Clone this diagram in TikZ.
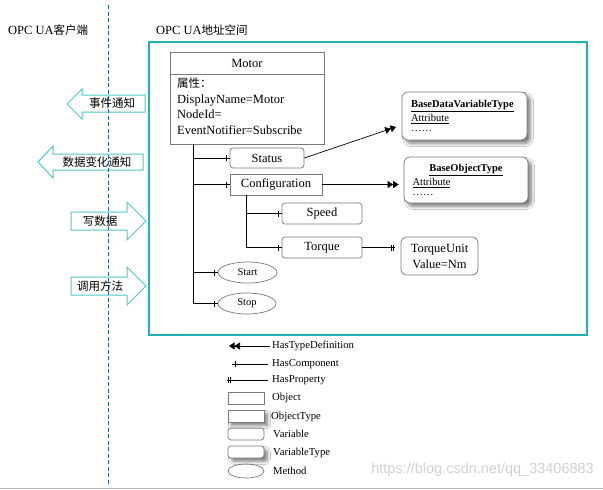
\documentclass[tikz,border=0pt]{standalone}
\usepackage{fontspec}
\setmainfont{Liberation Serif}
\newfontfamily\cjk{Noto Sans CJK SC}
\newfontfamily\wmfont{Liberation Sans}
\usetikzlibrary{arrows.meta,shapes.geometric,shadows.blur,decorations.markings}
\definecolor{tealc}{RGB}{34,178,180}
\definecolor{arrc}{RGB}{80,200,200}
\definecolor{dashc}{RGB}{40,95,150}
\definecolor{boxgray}{RGB}{120,120,120}
\newcommand{\fsz}[1]{\fontsize{#1}{#1}\selectfont}
\tikzset{
  box/.style={draw=boxgray, line width=0.7pt, inner sep=0pt, align=center, font=\fsz{12.5}},
  objbox/.style={box, rectangle},
  varbox/.style={box, rounded corners=3pt},
  methbox/.style={draw=boxgray, line width=0.7pt, ellipse, inner sep=0pt, font=\fsz{10.5}},
  shad/.style={fill=white, blur shadow={shadow xshift=3.5pt, shadow yshift=-3.5pt, shadow blur steps=10, shadow blur radius=3pt, shadow opacity=50}},
  typebox/.style={box, rounded corners=6pt, shad, font=\fsz{10.5}},
  tick/.style={line width=0.7pt},
  comp/.style={line width=0.7pt, decoration={markings,
      mark=at position -3pt with {\draw[tick] (0pt,-3pt) -- (0pt,3pt);}},
      postaction={decorate}},
  prop/.style={line width=0.7pt, decoration={markings,
      mark=at position -3.5pt with {\draw[tick] (0pt,-3pt) -- (0pt,3pt);},
      mark=at position -1pt with {\draw[tick] (0pt,-3pt) -- (0pt,3pt);}},
      postaction={decorate}},
  typedef/.style={line width=0.7pt, -{Triangle[length=5.5pt,width=7pt,sep=0pt]Triangle[length=5.5pt,width=7pt]}},
  blockarrow/.style={draw=arrc, line width=1pt, fill=white},
  cjklabel/.style={font=\cjk\fsz{11.5}, inner sep=0pt},
  legtext/.style={anchor=west, font=\fsz{10.7}, inner sep=0pt},
  title/.style={anchor=west, font=\fsz{12.5}, inner sep=0pt},
}
\begin{document}
\begin{tikzpicture}[x=1pt,y=-1pt]
\useasboundingbox[fill=white] (0,0) rectangle (603,490);

% titles
\node[title] (tclient) at (8,30) {OPC UA{\cjk\fsz{11.5}客户端}};
\node[title] (tserver) at (156,30) {OPC UA{\cjk\fsz{11.5}地址空间}};

% address space frame
\node[draw=tealc, line width=1.3pt, minimum width=438pt, minimum height=293pt, inner sep=0pt] (space) at (368,188.5) {};

% client block arrows
\draw[blockarrow] (145,95) -- (82,95) -- (82,89) -- (67,104) -- (82,119) -- (82,112) -- (145,112) -- cycle;
\draw[blockarrow] (143,154) -- (53,154) -- (53,146) -- (38,162) -- (53,178) -- (53,170) -- (143,170) -- cycle;
\draw[blockarrow] (71,212) -- (127,212) -- (127,202) -- (146,221) -- (127,240) -- (127,230) -- (71,230) -- cycle;
\draw[blockarrow] (71,277) -- (127,277) -- (127,267) -- (146,286) -- (127,305) -- (127,295) -- (71,295) -- cycle;

% dashed separator
\coordinate (dtop) at (108,5);
\coordinate (dbot) at (108,486);
\draw[dashc, line width=1pt, dash pattern=on 4pt off 2.5pt] (dtop) -- (dbot);

\node[cjklabel] (a1) at (112,103.5) {事件通知};
\node[cjklabel] (a2) at (97,162) {数据变化通知};
\node[cjklabel] (a3) at (100,221) {写数据};
\node[cjklabel] (a4) at (100,286) {调用方法};

% Motor object
\node[objbox, minimum width=154pt, minimum height=92pt] (motor) at (247,98) {};
\draw[boxgray, line width=0.7pt] ([yshift=-23pt]motor.north west) -- ([yshift=-23pt]motor.north east);
\node[font=\fsz{12.5}, inner sep=0pt] (mtitle) at (247,63.5) {Motor};
\node[anchor=north west, align=left, font=\fontsize{12.5}{15.4}\selectfont, inner sep=0pt] (mprops) at (177,78)
  {{\cjk\fsz{11.5}属性：}\\DisplayName=Motor\\NodeId=\\EventNotifier=Subscribe};

% children
\node[varbox, minimum width=74pt, minimum height=20pt] (status) at (267,158) {Status};
\node[objbox, minimum width=92pt, minimum height=21pt] (config) at (276,184.5) {Configuration};
\node[varbox, minimum width=80pt, minimum height=21pt] (speed) at (322,213.5) {Speed};
\node[varbox, minimum width=80pt, minimum height=21pt] (torque) at (322,247.5) {Torque};
\node[methbox, minimum width=59pt, minimum height=21pt] (start) at (247.5,272.5) {Start};
\node[methbox, minimum width=58pt, minimum height=21pt] (stop) at (247,303.5) {Stop};

% type boxes
\node[typebox, minimum width=125pt, minimum height=48pt, text width=107pt, align=left] (bdvt) at (464.5,116)
  {\fontsize{10.5}{14}\selectfont\underline{\textbf{BaseDataVariableType}}\\\underline{Attribute}\\……};
\node[typebox, minimum width=124pt, minimum height=46pt, text width=107pt, align=left] (bot) at (466,180)
  {\fontsize{10.5}{14}\selectfont\makebox[\linewidth]{\underline{\textbf{BaseObjectType}}}\\\underline{Attribute}\\……};
\node[varbox, rounded corners=6pt, minimum width=77pt, minimum height=38pt, font=\fontsize{12.5}{16}\selectfont] (tu) at (439.5,256)
  {TorqueUnit\\Value=Nm};

% trunks
\coordinate (mt) at ([xshift=-54pt]motor.south);
\draw[line width=0.8pt] (mt) -- (mt |- stop.west);
\draw[comp] (mt |- status.west) -- (status.west);
\draw[comp] (mt |- config.west) -- (config.west);
\draw[comp] (mt |- start.west) -- (start.west);
\draw[comp] (mt |- stop.west) -- (stop.west);

\coordinate (ct) at ([xshift=-30pt]config.south);
\draw[line width=0.8pt] (ct) -- (ct |- torque.west);
\draw[comp] (ct |- speed.west) -- (speed.west);
\draw[comp] (ct |- torque.west) -- (torque.west);

% references
\draw[typedef, shorten >=6pt] (status.east) -- ([yshift=-9pt]bdvt.west);
\draw[typedef, shorten >=5pt] (config.east) -- (bot.west |- config.east);
\coordinate (tuin) at ([xshift=-6pt]tu.west);
\draw[prop] (torque.east) -- (tuin |- torque.east);

% legend
\node[legtext] (l1) at (272,346) {HasTypeDefinition};
\coordinate (l1s) at ([xshift=-2pt]l1.west);
\coordinate (l1e) at (229,346);
\draw[typedef] (l1s) -- (l1e);
\node[legtext] (l2) at (272,364) {HasComponent};
\coordinate (l2s) at ([xshift=-4pt]l2.west);
\coordinate (l2e) at (232,364);
\draw[comp] (l2s) -- (l2e);
\node[legtext] (l3) at (272,380) {HasProperty};
\coordinate (l3s) at ([xshift=-4pt]l3.west);
\coordinate (l3e) at (227,380);
\draw[prop] (l3s) -- (l3e);

\node[objbox, minimum width=36pt, minimum height=12pt] (sObj) at (246,398) {};
\node[legtext] (tObj) at (272,398) {Object};
\node[objbox, shad, minimum width=36pt, minimum height=12pt] (sObjT) at (246,416) {};
\node[legtext] (tObjT) at (271,417) {ObjectType};
\node[varbox, minimum width=36pt, minimum height=12pt] (sVar) at (246,434) {};
\node[legtext] (tVar) at (273,434) {Variable};
\node[varbox, shad, minimum width=36pt, minimum height=12pt] (sVarT) at (246,452) {};
\node[legtext] (tVarT) at (273,453) {VariableType};
\node[methbox, minimum width=36pt, minimum height=14pt] (sMeth) at (246,471) {};
\node[legtext] (tMeth) at (273,471) {Method};

% watermark and bottom rule
\node[anchor=east, text=black!18, font=\wmfont\fsz{14.5}, inner sep=0pt] (wm) at (594,470) {https://blog.csdn.net/qq\_33406883};
\coordinate (bl) at (0,488.5);
\coordinate (br) at (603,488.5);
\draw[black!28, line width=1.5pt] (bl) -- (br);
\end{tikzpicture}
\end{document}
